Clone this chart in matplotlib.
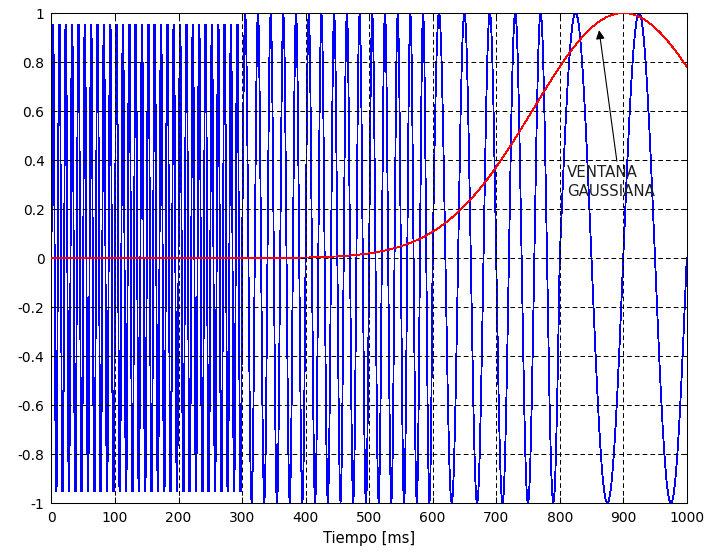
import numpy as np
import matplotlib
matplotlib.use("Agg")
import matplotlib.pyplot as plt

# non-stationary test signal: one sine frequency per time segment
segment_start_ms = [0, 300, 600, 800]
segment_end_ms = [300, 600, 800, 1000]
segment_freq_hz = [100, 50, 25, 10]
sample_step_ms = 1

# gaussian window drawn on top (centre / width)
window_center_ms = 900
window_width_ms = 142

x_ticks = [0, 100, 200, 300, 400, 500, 600, 700, 800, 900, 1000]
y_ticks = [-1, -0.8, -0.6, -0.4, -0.2, 0, 0.2, 0.4, 0.6, 0.8, 1]
y_tick_labels = ["-1", "-0.8", "-0.6", "-0.4", "-0.2", "0",
                 "0.2", "0.4", "0.6", "0.8", "1"]

annot_text = "VENTANA\nGAUSSIANA"
annot_text_xy = (812, 0.378)
annot_tail_xy = (890, 0.395)
annot_head_xy = (862, 0.93)


def main():
    plt.rcParams["font.family"] = ["DejaVu Sans"]
    plt.rcParams["lines.scale_dashes"] = False

    t = np.arange(segment_start_ms[0], segment_end_ms[-1] + sample_step_ms, sample_step_ms)
    freq = np.zeros_like(t, dtype=float)
    for s0, s1, f in zip(segment_start_ms, segment_end_ms, segment_freq_hz):
        freq[(t >= s0) & (t <= s1)] = f
    sig = np.sin(2 * np.pi * freq * t / 1000.0)

    win = np.exp(-0.5 * ((t - window_center_ms) / window_width_ms) ** 2)

    fig = plt.figure(figsize=(7.08, 5.56), dpi=100)
    fig.patch.set_facecolor("white")
    ax = fig.add_axes([0.0727, 0.0953, 0.8973, 0.8813])

    ax.plot(t, sig, color=(0, 0, 1), linewidth=0.6, antialiased=False, zorder=2)
    ax.plot(t, win, color=(1, 0, 0), linewidth=0.6, antialiased=False, zorder=3)

    ax.set_xlim(0, 1000)
    ax.set_ylim(-1, 1)
    ax.set_xticks(x_ticks)
    ax.set_xticklabels([str(v) for v in x_ticks])
    ax.set_yticks(y_ticks)
    ax.set_yticklabels(y_tick_labels)

    ax.set_axisbelow(False)
    ax.grid(True, color="k", linewidth=0.72, linestyle=(0, (3.4, 2.2)))
    ax.tick_params(direction="in", top=True, right=True, length=4,
                   width=0.75, labelsize=10)
    ax.tick_params(axis="x", pad=6)
    ax.tick_params(axis="y", pad=5)
    for sp in ax.spines.values():
        sp.set_linewidth(0.75)
        sp.set_color("k")

    ax.set_xlabel("Tiempo [ms]", fontsize=10.5, labelpad=4)

    ax.annotate("", xy=annot_head_xy, xytext=annot_tail_xy,
                arrowprops=dict(arrowstyle="-|>", color="k", lw=0.8,
                                mutation_scale=13, shrinkA=0, shrinkB=0),
                zorder=4)
    ax.text(annot_text_xy[0], annot_text_xy[1], annot_text, fontsize=10.8,
            ha="left", va="top", linespacing=1.3, color="#202020", zorder=4)

    fig.savefig("out.png", dpi=100, facecolor="white")


if __name__ == "__main__":
    main()
